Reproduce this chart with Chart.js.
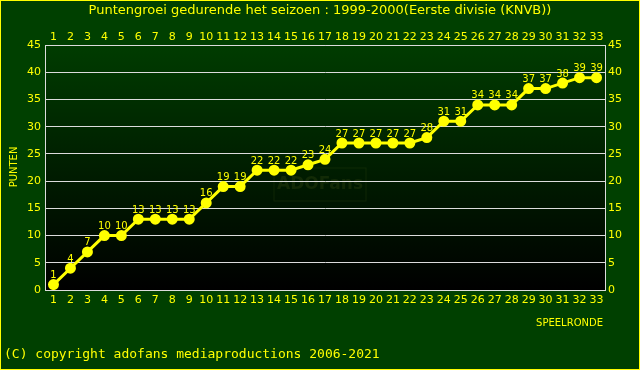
<!DOCTYPE html>
<html>
<head>
<meta charset="utf-8">
<script src="https://cdn.jsdelivr.net/npm/chart.js@4"></script>
<style>
  body { margin: 0; background: #004000; }
  canvas { display: block; }
</style>
</head>
<body>
<canvas id="chart" width="640" height="370"></canvas>
<script>
// speelrondes en punten
let rounds = [];
for (let i = 1; i <= 33; i++) rounds.push(String(i));
let points = [1, 4, 7, 10, 10, 13, 13, 13, 13, 16, 19, 19, 22, 22, 22, 23, 24,
  27, 27, 27, 27, 27, 28, 31, 31, 34, 34, 34, 37, 37, 38, 39, 39];
let yTicks = [0, 5, 10, 15, 20, 25, 30, 35, 40, 45];

let titleText = 'Puntengroei gedurende het seizoen : 1999-2000(Eerste divisie (KNVB))';
let yell = '#ffff00';
let font = 'DejaVu Sans';

const decorations = {
  id: 'decorations',
  beforeDraw(chart) {
    let ctx = chart.ctx;
    let a = chart.chartArea;
    ctx.save();
    ctx.fillStyle = '#004000';
    ctx.fillRect(0, 0, chart.width, chart.height);
    let g = ctx.createLinearGradient(0, a.top, 0, a.bottom);
    g.addColorStop(0, '#003c00');
    g.addColorStop(1, '#000000');
    ctx.fillStyle = g;
    ctx.fillRect(a.left, a.top, a.right - a.left, a.bottom - a.top);
    // watermark
    ctx.strokeStyle = 'rgba(60,80,20,0.25)';
    ctx.lineWidth = 1;
    ctx.strokeRect(274, 168, 92, 33);
    ctx.fillStyle = 'rgba(60,80,20,0.3)';
    ctx.font = 'bold 17px ' + font;
    ctx.textAlign = 'center';
    ctx.textBaseline = 'middle';
    ctx.fillText('ADOFans', 320, 185);
    ctx.restore();
  },
  afterDatasetsDraw(chart) {
    let ctx = chart.ctx;
    let meta = chart.getDatasetMeta(0);
    ctx.save();
    ctx.fillStyle = yell;
    ctx.font = '10px ' + font;
    ctx.textAlign = 'center';
    ctx.textBaseline = 'bottom';
    meta.data.forEach((p, i) => {
      ctx.fillText(String(points[i]), p.x, p.y - 4);
    });
    ctx.restore();
  },
  afterDraw(chart) {
    let ctx = chart.ctx;
    ctx.save();
    ctx.fillStyle = yell;
    ctx.textBaseline = 'middle';
    ctx.textAlign = 'center';
    ctx.font = '13px ' + font;
    ctx.fillText(titleText, 320, 11);
    ctx.font = '10px ' + font;
    ctx.textAlign = 'right';
    ctx.fillText('SPEELRONDE', 603, 323);
    ctx.save();
    ctx.translate(14, 167);
    ctx.rotate(-Math.PI / 2);
    ctx.textAlign = 'center';
    ctx.fillText('PUNTEN', 0, 0);
    ctx.restore();
    ctx.textAlign = 'left';
    ctx.font = '13px "DejaVu Sans Mono"';
    ctx.fillText('(C) copyright adofans mediaproductions 2006-2021', 4, 355);
    ctx.strokeStyle = yell;
    ctx.lineWidth = 1;
    ctx.strokeRect(0.5, 0.5, chart.width - 1, chart.height - 1);
    ctx.restore();
  }
};

let tickFont = { family: font, size: 11 };
let plotBorder = { display: true, color: '#dcdcdc', width: 1 };

new Chart(document.getElementById('chart'), {
  type: 'line',
  data: {
    labels: rounds,
    datasets: [{
      data: points,
      borderColor: yell,
      backgroundColor: yell,
      borderWidth: 3,
      pointRadius: 4,
      pointBackgroundColor: yell,
      pointBorderColor: yell,
      tension: 0,
      xAxisID: 'x',
      yAxisID: 'y',
    }],
  },
  options: {
    responsive: false,
    animation: false,
    layout: { padding: 0 },
    plugins: { legend: { display: false }, tooltip: { enabled: false } },
    scales: {
      x: {
        position: 'bottom',
        offset: true,
        grid: { drawOnChartArea: false, drawTicks: false, offset: true },
        border: plotBorder,
        ticks: { color: yell, font: tickFont, padding: 4, maxRotation: 0, autoSkip: false },
        afterFit: (s) => { s.height = 80; },
      },
      x2: {
        position: 'top',
        type: 'category',
        labels: rounds,
        offset: true,
        grid: { drawOnChartArea: false, drawTicks: false, offset: true },
        border: plotBorder,
        ticks: { color: yell, font: tickFont, padding: 1, maxRotation: 0, autoSkip: false },
        afterFit: (s) => { s.height = 45; },
      },
      y: {
        position: 'left',
        min: 0,
        max: 45,
        grid: { color: '#dcdcdc', drawTicks: false, lineWidth: 1 },
        border: plotBorder,
        ticks: { color: yell, font: tickFont, padding: 4, stepSize: 5,
          callback: (v) => yTicks.includes(v) ? String(v) : '' },
        afterFit: (s) => { s.width = 45; },
      },
      y2: {
        position: 'right',
        min: 0,
        max: 45,
        grid: { drawOnChartArea: false, drawTicks: false },
        border: plotBorder,
        ticks: { color: yell, font: tickFont, padding: 3, stepSize: 5,
          callback: (v) => yTicks.includes(v) ? String(v) : '' },
        afterFit: (s) => { s.width = 35; },
      },
    },
  },
  plugins: [decorations],
});
</script>
</body>
</html>
